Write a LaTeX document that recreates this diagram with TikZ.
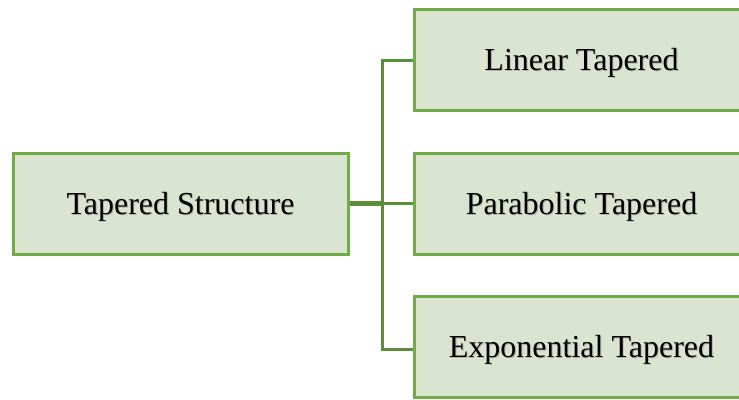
\documentclass[tikz,border=0pt]{standalone}
\usepackage{fontspec}
\setmainfont{Liberation Serif}
\definecolor{boxfill}{RGB}{217,228,209}
\definecolor{boxline}{RGB}{113,173,71}
\definecolor{linkline}{RGB}{92,142,57}
\definecolor{shadowgray}{RGB}{175,180,170}
\tikzset{
  leaf/.style={draw=boxline, fill=boxfill, line width=3pt,
    minimum width=335pt, minimum height=101pt, inner sep=0pt},
  lbl/.style={inner sep=0pt, text height=21.2pt, text depth=0pt,
    font=\fontsize{32}{38}\selectfont, text=black},
  lblshadow/.style={lbl, text=shadowgray},
  link/.style={draw=linkline, line width=3pt},
  trunk/.style={draw=linkline, line width=4.5pt},
}
\begin{document}
\begin{tikzpicture}[x=1pt,y=-1pt]
  \clip (0,0) rectangle (739,399);
  \fill[white] (0,0) rectangle (739,399);

  % boxes
  \node[leaf] (root) at (180.5,203.5) {};
  \node[leaf] (lin)  at (581.5,59.5) {};
  \node[leaf] (par)  at (581.5,203.5) {};
  \node[leaf] (exp)  at (581.5,347) {};

  % connectors
  \coordinate (hub) at (382,203.5);
  \coordinate (topend) at (382,60);
  \coordinate (botend) at (382,349);
  \draw[trunk] (root.east) -- (hub);
  \draw[link] (topend -| lin.west) -- (topend) -- (botend) -- (botend -| exp.west);
  \draw[link] (hub) -- (hub -| par.west);

  % labels with a soft drop shadow
  \foreach \b/\t in {root/Tapered Structure, lin/Linear Tapered,
                     par/Parabolic Tapered, exp/Exponential Tapered} {
    \node[lblshadow] at ([shift={(0.9,0.9)}]\b.center) {\t};
    \node[lbl] at (\b.center) {\t};
  }
\end{tikzpicture}
\end{document}
